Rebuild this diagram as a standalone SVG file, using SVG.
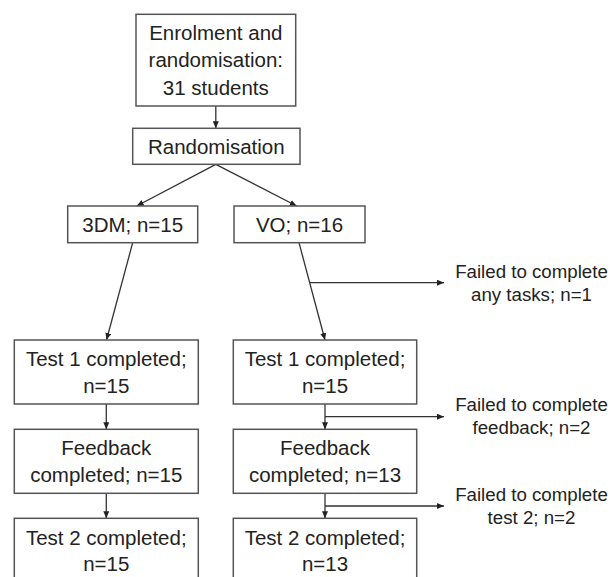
<svg xmlns="http://www.w3.org/2000/svg" width="610" height="577" viewBox="0 0 610 577">
<style>
.box{fill:#fff;stroke:#555;stroke-width:1.5}
.t{font-family:"Liberation Sans",Arial,sans-serif;font-size:20.5px;fill:#222;text-anchor:middle}
.s{font-family:"Liberation Sans",Arial,sans-serif;font-size:18.7px;fill:#222;text-anchor:middle}
.c{fill:none;stroke:#333;stroke-width:1.3}
</style>
<defs>
<marker id="ah" markerUnits="userSpaceOnUse" markerWidth="7" markerHeight="6" refX="7" refY="3" orient="auto">
<path d="M0,0 L7,3 L0,6 z" fill="#222"/>
</marker>
</defs>
<rect width="610" height="577" fill="#fff"/>
<g id="connectors">
<line class="c" x1="215.8" y1="106" x2="215.8" y2="128.3" marker-end="url(#ah)"/>
<line class="c" x1="215.8" y1="164.3" x2="136.7" y2="206" marker-end="url(#ah)"/>
<line class="c" x1="215.8" y1="164.3" x2="296.7" y2="206" marker-end="url(#ah)"/>
<line class="c" x1="132.7" y1="242.7" x2="106.5" y2="340" marker-end="url(#ah)"/>
<line class="c" x1="299" y1="242.7" x2="325" y2="340" marker-end="url(#ah)"/>
<line class="c" x1="309.7" y1="282.7" x2="444" y2="282.7" marker-end="url(#ah)"/>
<line class="c" x1="106.3" y1="404" x2="106.3" y2="429.3" marker-end="url(#ah)"/>
<line class="c" x1="325" y1="404" x2="325" y2="429.3" marker-end="url(#ah)"/>
<line class="c" x1="325" y1="416.7" x2="444" y2="416.7" marker-end="url(#ah)"/>
<line class="c" x1="106.3" y1="493.3" x2="106.3" y2="518.3" marker-end="url(#ah)"/>
<line class="c" x1="325" y1="493.3" x2="325" y2="518.3" marker-end="url(#ah)"/>
<line class="c" x1="325" y1="506" x2="444" y2="506" marker-end="url(#ah)"/>
</g>
<g id="enrolment">
<rect class="box" x="136" y="14.3" width="159.7" height="91.7"/>
<text class="t" x="215.8" y="39.5">Enrolment and</text>
<text class="t" x="215.8" y="67">randomisation:</text>
<text class="t" x="215.8" y="94.5">31 students</text>
</g>
<g id="randomisation">
<rect class="box" x="132.7" y="128.3" width="167.3" height="36"/>
<text class="t" x="216.3" y="154">Randomisation</text>
</g>
<g id="group-3dm">
<rect class="box" x="67.7" y="206" width="130" height="36.7"/>
<text class="t" x="132.7" y="231.7">3DM; n=15</text>
</g>
<g id="group-vo">
<rect class="box" x="234" y="206" width="131" height="36.7"/>
<text class="t" x="299.5" y="231.7">VO; n=16</text>
</g>
<g id="failed-any">
<text class="s" x="531.5" y="278">Failed to complete</text>
<text class="s" x="531.5" y="301">any tasks; n=1</text>
</g>
<g id="test1-3dm">
<rect class="box" x="14.3" y="340" width="184" height="64"/>
<text class="t" x="106.3" y="366">Test 1 completed;</text>
<text class="t" x="106.3" y="392.5">n=15</text>
</g>
<g id="test1-vo">
<rect class="box" x="233.3" y="340" width="183.4" height="64"/>
<text class="t" x="325" y="366">Test 1 completed;</text>
<text class="t" x="325" y="392.5">n=15</text>
</g>
<g id="failed-feedback">
<text class="s" x="531.5" y="411">Failed to complete</text>
<text class="s" x="531.5" y="434">feedback; n=2</text>
</g>
<g id="feedback-3dm">
<rect class="box" x="14.3" y="429.3" width="184" height="64"/>
<text class="t" x="106.3" y="455">Feedback</text>
<text class="t" x="106.3" y="481.7">completed; n=15</text>
</g>
<g id="feedback-vo">
<rect class="box" x="233.3" y="429.3" width="183.4" height="64"/>
<text class="t" x="325" y="455">Feedback</text>
<text class="t" x="325" y="481.7">completed; n=13</text>
</g>
<g id="failed-test2">
<text class="s" x="531.5" y="501">Failed to complete</text>
<text class="s" x="531.5" y="524">test 2; n=2</text>
</g>
<g id="test2-3dm">
<rect class="box" x="14.3" y="518.3" width="184" height="90"/>
<text class="t" x="106.3" y="544.5">Test 2 completed;</text>
<text class="t" x="106.3" y="571">n=15</text>
</g>
<g id="test2-vo">
<rect class="box" x="233.3" y="518.3" width="183.4" height="90"/>
<text class="t" x="325" y="544.5">Test 2 completed;</text>
<text class="t" x="325" y="571">n=13</text>
</g>
</svg>
